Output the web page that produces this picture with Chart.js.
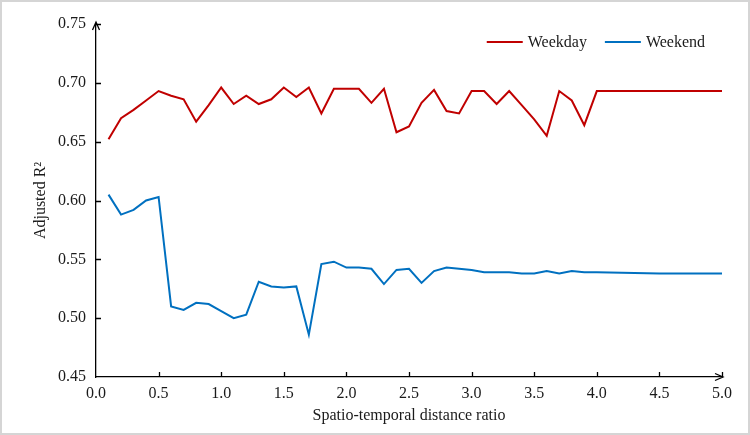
<!DOCTYPE html>
<html>
<head>
<meta charset="utf-8">
<script src="https://cdn.jsdelivr.net/npm/chart.js@4.4.1/dist/chart.umd.min.js"></script>
<style>
  html, body { margin: 0; padding: 0; background: #fff; }
  #wrap { width: 750px; height: 435px; position: relative; }
</style>
</head>
<body>
<div id="wrap"><canvas id="r2Chart"></canvas></div>
<script>
// Adjusted R2 vs spatio-temporal distance ratio
const distanceRatio = [
    0.1, 0.2, 0.3, 0.4, 0.5, 0.6, 0.7, 0.8, 0.9, 1.0,
    1.1, 1.2, 1.3, 1.4, 1.5, 1.6, 1.7, 1.8, 1.9, 2.0,
    2.1, 2.2, 2.3, 2.4, 2.5, 2.6, 2.7, 2.8, 2.9, 3.0,
    3.1, 3.2, 3.3, 3.4, 3.5, 3.6, 3.7, 3.8, 3.9, 4.0,
    4.5, 5.0
];

const weekdayR2 = [
    0.652, 0.670, 0.677, 0.685, 0.693, 0.689, 0.686, 0.667, 0.681, 0.696,
    0.682, 0.689, 0.682, 0.686, 0.696, 0.688, 0.696, 0.674, 0.695, 0.695,
    0.695, 0.683, 0.695, 0.658, 0.663, 0.683, 0.694, 0.676, 0.674, 0.693,
    0.693, 0.682, 0.693, 0.681, 0.669, 0.655, 0.693, 0.685, 0.664, 0.693,
    0.693, 0.693
];

const weekendR2 = [
    0.605, 0.588, 0.592, 0.600, 0.603, 0.510, 0.507, 0.513, 0.512, 0.506,
    0.500, 0.503, 0.531, 0.527, 0.526, 0.527, 0.486, 0.546, 0.548, 0.543,
    0.543, 0.542, 0.529, 0.541, 0.542, 0.530, 0.540, 0.543, 0.542, 0.541,
    0.539, 0.539, 0.539, 0.538, 0.538, 0.540, 0.538, 0.540, 0.539, 0.539,
    0.538, 0.538
];

const seriesNames = ['Weekday', 'Weekend'];
const xTickStep = 0.5;
const yTickStep = 0.05;

const serif = 'Liberation Serif, Times New Roman, serif';
const textColor = '#1a1a1a';

function toPoints(values) {
    return values.map((v, i) => ({ x: distanceRatio[i], y: v }));
}

// Frame, inward tick marks, axis arrows and the legend in the top right corner
const axisDecor = {
    id: 'axisDecor',
    beforeDraw(chart) {
        const c = chart.ctx;
        c.save();
        c.fillStyle = '#fff';
        c.fillRect(0, 0, chart.width, chart.height);
        c.strokeStyle = '#d5d5d5';
        c.lineWidth = 2;
        c.strokeRect(1, 1, chart.width - 2, chart.height - 2);
        c.restore();
    },
    afterDraw(chart) {
        const c = chart.ctx;
        const xs = chart.scales.x;
        const ys = chart.scales.y;
        const area = chart.chartArea;
        const left = area.left;
        const bottom = area.bottom;
        c.save();
        c.strokeStyle = '#000';
        c.lineWidth = 1.3;
        c.beginPath();
        xs.ticks.forEach(t => {
            if (t.value === 0) return;
            const px = Math.round(xs.getPixelForValue(t.value)) + 0.5;
            c.moveTo(px, bottom);
            c.lineTo(px, bottom - 5);
        });
        ys.ticks.forEach(t => {
            if (Math.abs(t.value - ys.min) < 1e-9) return;
            const py = Math.round(ys.getPixelForValue(t.value)) + 0.5;
            c.moveTo(left, py);
            c.lineTo(left + 5, py);
        });
        c.stroke();

        // arrow heads
        const top = area.top - 2;
        const right = area.right + 1;
        c.beginPath();
        c.moveTo(left - 3.5, top + 8);
        c.lineTo(left, top);
        c.lineTo(left + 3.5, top + 8);
        c.moveTo(right - 8, bottom - 3.5);
        c.lineTo(right, bottom);
        c.lineTo(right - 8, bottom + 3.5);
        c.moveTo(left, area.top);
        c.lineTo(left, top);
        c.stroke();

        // legend
        const lineLen = 36, gapText = 5, gapItem = 18;
        c.font = '16px ' + serif;
        c.textBaseline = 'middle';
        c.textAlign = 'left';
        const items = chart.data.datasets.map(ds => ({
            label: ds.label, color: ds.borderColor, w: c.measureText(ds.label).width
        }));
        let total = 0;
        items.forEach((it, i) => { total += lineLen + gapText + it.w + (i ? gapItem : 0); });
        let x = area.right - 17 - total;
        const y = area.top + 18;
        items.forEach(it => {
            c.strokeStyle = it.color;
            c.lineWidth = 2;
            c.beginPath();
            c.moveTo(x, y);
            c.lineTo(x + lineLen, y);
            c.stroke();
            c.fillStyle = textColor;
            c.fillText(it.label, x + lineLen + gapText, y + 1);
            x += lineLen + gapText + it.w + gapItem;
        });
        c.restore();
    }
};

const ctx = document.getElementById('r2Chart');

const r2Chart = new Chart(ctx, {
    type: 'line',
    data: {
        datasets: [
            {
                label: seriesNames[0],
                data: toPoints(weekdayR2),
                borderColor: '#c00000',
                backgroundColor: '#c00000',
                borderWidth: 2,
                pointRadius: 0,
                tension: 0,
                fill: false
            },
            {
                label: seriesNames[1],
                data: toPoints(weekendR2),
                borderColor: '#0070c0',
                backgroundColor: '#0070c0',
                borderWidth: 2,
                pointRadius: 0,
                tension: 0,
                fill: false
            }
        ]
    },
    options: {
        responsive: true,
        maintainAspectRatio: false,
        animation: false,
        layout: {
            padding: { left: 0, right: 28, top: 24, bottom: 0 }
        },
        plugins: {
            legend: { display: false },
            tooltip: { enabled: false }
        },
        scales: {
            x: {
                type: 'linear',
                min: 0,
                max: 5,
                grid: { display: true, drawOnChartArea: false, drawTicks: false },
                border: { color: '#000', width: 1.3 },
                ticks: {
                    stepSize: xTickStep,
                    color: textColor,
                    padding: 7,
                    font: { family: serif, size: 16 },
                    callback: v => v.toFixed(1)
                },
                title: {
                    display: true,
                    text: 'Spatio-temporal distance ratio',
                    color: textColor,
                    font: { family: serif, size: 16 },
                    padding: { top: 0, bottom: 10 }
                },
                afterFit(scale) { scale.height = 58; }
            },
            y: {
                min: 0.45,
                max: 0.75,
                grid: { display: true, drawOnChartArea: false, drawTicks: false },
                border: { color: '#000', width: 1.3 },
                ticks: {
                    stepSize: yTickStep,
                    color: textColor,
                    padding: 10,
                    font: { family: serif, size: 16 },
                    callback: v => v.toFixed(2)
                },
                title: {
                    display: true,
                    text: 'Adjusted R\u00B2',
                    color: textColor,
                    font: { family: serif, size: 16 },
                    padding: { top: 31, bottom: 0 }
                },
                afterFit(scale) { scale.width = 96; }
            }
        }
    },
    plugins: [axisDecor]
});
</script>
</body>
</html>
